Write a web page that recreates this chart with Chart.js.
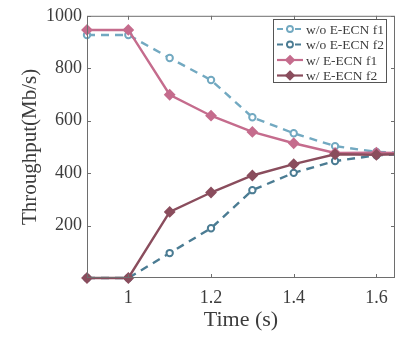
<!DOCTYPE html>
<html lang="en">

<head>
    <meta charset="UTF-8">
    <title>Throughput vs time</title>
    <script src="https://cdn.jsdelivr.net/npm/chart.js"></script>
    <style>
        html, body { margin: 0; padding: 0; background: #fff; }
        #wrap { width: 403px; height: 337px; }
    </style>
</head>

<body>
    <div id="wrap"><canvas id="tputChart" width="403" height="337"></canvas></div>

    <script>
        // data
        const times = [0.9, 1.0, 1.1, 1.2, 1.3, 1.4, 1.5, 1.6, 1.7];
        const woF1 = [927, 927, 839, 755, 613, 552, 503, 481, 476];
        const woF2 = [0, 0, 95, 190, 335, 401, 446, 468, 474];
        const wF1 = [946, 946, 699, 619, 557, 514, 477, 478, 476];
        const wF2 = [0, 0, 252, 326, 391, 434, 472, 470, 474];
        const xTicks = [1, 1.2, 1.4, 1.6];
        const yTicks = [200, 400, 600, 800, 1000];
        const seriesNames = ['w/o E-ECN f1', 'w/o E-ECN f2', 'w/ E-ECN f1', 'w/ E-ECN f2'];

        const serif = '"Liberation Serif", "Times New Roman", serif';
        const axisGray = '#6e6e6e';
        const textGray = '#3c3c3c';

        function pts(ys) {
            return times.map((t, i) => ({ x: t, y: ys[i] }));
        }

        const styles = [
            { color: '#72a9c1', dash: [8, 6], point: 'circle', fill: '#ffffff' },
            { color: '#4b7c93', dash: [8, 6], point: 'circle', fill: '#ffffff' },
            { color: '#c56c8d', dash: [], point: 'rectRot', fill: '#c56c8d' },
            { color: '#8a4d5d', dash: [], point: 'rectRot', fill: '#8a4d5d' }
        ];
        const allData = [woF1, woF2, wF1, wF2];

        // box, inward ticks and legend drawn on top
        const boxPlugin = {
            id: 'boxPlugin',
            afterDraw(chart) {
                const ctx = chart.ctx;
                const a = chart.chartArea;
                const xs = chart.scales.x, ys = chart.scales.y;
                ctx.save();
                ctx.strokeStyle = axisGray;
                ctx.lineWidth = 1;
                ctx.strokeRect(a.left + 0.5, a.top + 0.5, a.right - a.left - 1, a.bottom - a.top - 1);
                ctx.beginPath();
                xTicks.forEach(v => {
                    const px = Math.round(xs.getPixelForValue(v)) + 0.5;
                    ctx.moveTo(px, a.bottom); ctx.lineTo(px, a.bottom - 4);
                    ctx.moveTo(px, a.top); ctx.lineTo(px, a.top + 4);
                });
                yTicks.forEach(v => {
                    const py = Math.round(ys.getPixelForValue(v)) + 0.5;
                    ctx.moveTo(a.left, py); ctx.lineTo(a.left + 4, py);
                    ctx.moveTo(a.right, py); ctx.lineTo(a.right - 4, py);
                });
                ctx.stroke();

                // legend box
                const lx = 273, ly = 19, lw = 114, lh = 64;
                ctx.fillStyle = '#ffffff';
                ctx.fillRect(lx, ly, lw, lh);
                ctx.strokeStyle = '#555';
                ctx.strokeRect(lx + 0.5, ly + 0.5, lw - 1, lh - 1);
                ctx.font = '13.5px ' + serif;
                ctx.textBaseline = 'middle';
                seriesNames.forEach((name, i) => {
                    const s = styles[i];
                    const cy = ly + 10 + i * 15.5;
                    ctx.strokeStyle = s.color;
                    ctx.lineWidth = 2.2;
                    ctx.setLineDash(s.dash.length ? [6, 3] : []);
                    ctx.beginPath();
                    ctx.moveTo(lx + 4, cy); ctx.lineTo(lx + 30, cy);
                    ctx.stroke();
                    ctx.setLineDash([]);
                    ctx.lineWidth = 1.8;
                    ctx.fillStyle = s.fill;
                    ctx.beginPath();
                    if (s.point === 'circle') {
                        ctx.arc(lx + 17, cy, 3, 0, Math.PI * 2);
                    } else {
                        ctx.moveTo(lx + 17, cy - 4); ctx.lineTo(lx + 21, cy);
                        ctx.lineTo(lx + 17, cy + 4); ctx.lineTo(lx + 13, cy);
                        ctx.closePath();
                    }
                    ctx.fill(); ctx.stroke();
                    ctx.fillStyle = textGray;
                    ctx.fillText(name, lx + 33, cy + 1);
                });
                ctx.restore();
            }
        };

        new Chart(document.getElementById('tputChart').getContext('2d'), {
            type: 'line',
            data: {
                datasets: allData.map((d, i) => ({
                    label: seriesNames[i],
                    data: pts(d),
                    order: 3 - i,
                    clip: { left: 8, top: 8, right: 0, bottom: 8 },
                    borderColor: styles[i].color,
                    backgroundColor: styles[i].fill,
                    borderDash: styles[i].dash,
                    borderWidth: 2.4,
                    pointStyle: styles[i].point,
                    pointRadius: styles[i].point === 'circle' ? 3.2 : 4.5,
                    pointBorderWidth: 2,
                    pointBorderColor: styles[i].color,
                    pointBackgroundColor: styles[i].fill,
                    tension: 0,
                    fill: false
                }))
            },
            options: {
                responsive: false,
                animation: false,
                layout: { padding: { top: 13, right: 8, left: 0, bottom: 0 } },
                plugins: { legend: { display: false }, tooltip: { enabled: false } },
                scales: {
                    x: {
                        type: 'linear',
                        min: 0.9,
                        max: 1.645,
                        afterBuildTicks: s => { s.ticks = xTicks.map(v => ({ value: v })); },
                        afterFit: s => { s.height = 59; },
                        grid: { display: false, drawTicks: false },
                        border: { display: false },
                        ticks: {
                            padding: 9,
                            color: textGray,
                            font: { family: serif, size: 18 },
                            maxRotation: 0,
                            callback: v => String(v)
                        },
                        title: {
                            display: true,
                            text: 'Time (s)',
                            color: textGray,
                            font: { family: serif, size: 22 },
                            padding: { top: 2 }
                        }
                    },
                    y: {
                        min: 0,
                        max: 1000,
                        afterBuildTicks: s => { s.ticks = yTicks.map(v => ({ value: v })); },
                        afterFit: s => { s.width = 87; },
                        grid: { display: false, drawTicks: false },
                        border: { display: false },
                        ticks: {
                            padding: 5,
                            color: textGray,
                            font: { family: serif, size: 18 },
                            callback: v => String(v)
                        },
                        title: {
                            display: true,
                            text: 'Throughput(Mb/s)',
                            color: textGray,
                            font: { family: serif, size: 21 },
                            padding: { top: 18, bottom: 0 }
                        }
                    }
                }
            },
            plugins: [boxPlugin]
        });
    </script>
</body>

</html>
